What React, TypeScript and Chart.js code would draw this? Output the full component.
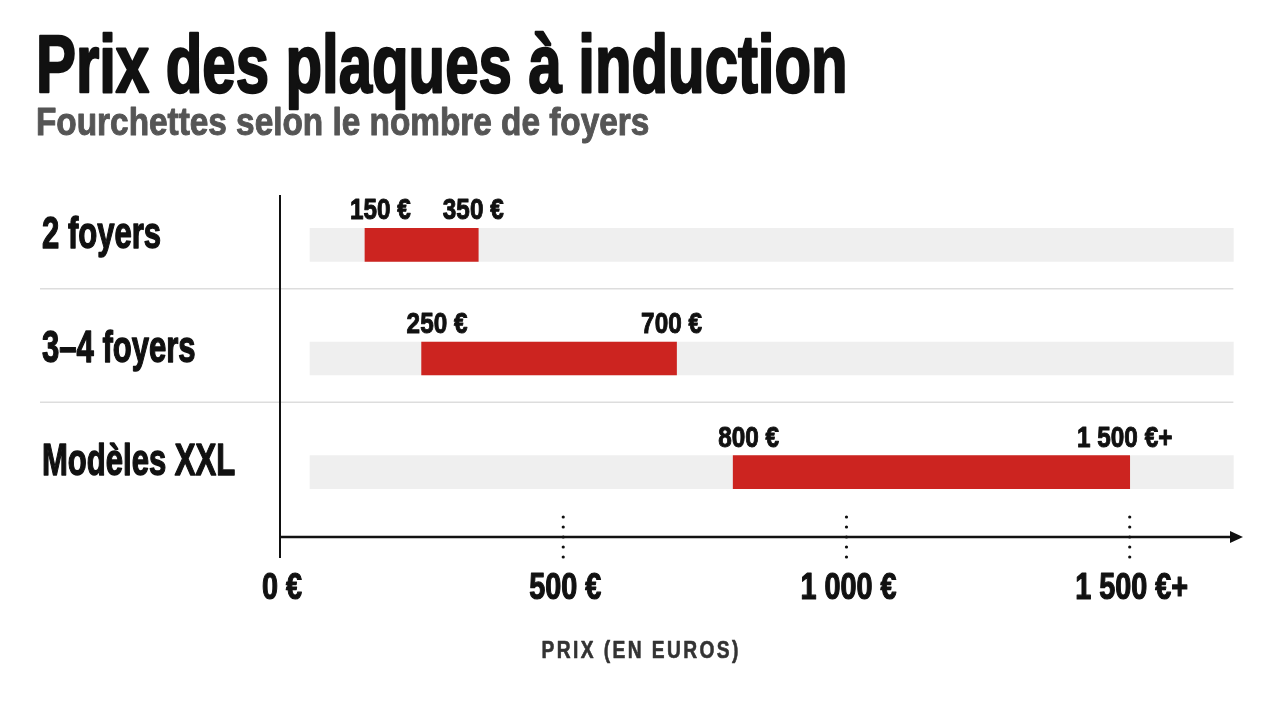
import React, { useEffect, useRef } from "react";
import { Chart, registerables } from "chart.js";

Chart.register(...registerables);

// Rows of the chart
const categories = ["2 foyers", "3–4 foyers", "Modèles XXL"];
// Price range per row, in euros
const priceLow = [150, 250, 800];
const priceHigh = [350, 700, 1500];
const lowLabels = ["150 €", "250 €", "800 €"];
const highLabels = ["350 €", "700 €", "1 500 €+"];
// Axis ticks
const tickValues = [0, 500, 1000, 1500];
const tickLabels = ["0 €", "500 €", "1 000 €", "1 500 €+"];
// Extent of the light background track behind every range, in euros
const trackRange = [53, 1683];
const axisMax = 1700;

const TITLE = "Prix des plaques à induction";
const SUBTITLE = "Fourchettes selon le nombre de foyers";
const AXIS_TITLE = "PRIX (EN EUROS)";

const FONT = "'Liberation Sans', Arial, sans-serif";
const RED = "#cc2420";
const TRACK = "#efefef";
const INK = "#111111";

type TextOpts = {
  size: number;
  weight?: string;
  color?: string;
  sx?: number;
  align?: "left" | "center" | "right";
  spacing?: number;
  heavy?: number;
};

// Draws bold text squeezed horizontally (and optionally thickened) for a condensed grotesque look
function drawText(ctx: CanvasRenderingContext2D, text: string, x: number, y: number, o: TextOpts) {
  const sx = o.sx ?? 1;
  ctx.save();
  ctx.font = `${o.weight ?? "bold"} ${o.size}px ${FONT}`;
  (ctx as any).letterSpacing = `${o.spacing ?? 0}px`;
  ctx.fillStyle = o.color ?? INK;
  ctx.strokeStyle = o.color ?? INK;
  ctx.lineJoin = "round";
  ctx.textAlign = "left";
  ctx.textBaseline = "alphabetic";
  const w = (ctx.measureText(text).width - (o.spacing ?? 0)) * sx;
  const left = o.align === "center" ? x - w / 2 : o.align === "right" ? x - w : x;
  ctx.translate(left, y);
  ctx.scale(sx, 1);
  ctx.fillText(text, 0, 0);
  if (o.heavy) {
    ctx.lineWidth = o.heavy;
    ctx.strokeText(text, 0, 0);
  }
  ctx.restore();
}

const decorations = {
  id: "rangeDecorations",
  beforeDatasetsDraw(chart: any) {
    const { ctx, scales } = chart;
    const xs = scales.x;
    const ys = scales.y;
    // row separators, drawn a little above the mid-point so each row holds its labels
    ctx.save();
    ctx.strokeStyle = "#dddddd";
    ctx.lineWidth = 1.5;
    const sepRight = xs.getPixelForValue(trackRange[1]);
    for (let i = 0; i < categories.length - 1; i++) {
      const y = (ys.getPixelForValue(i) + ys.getPixelForValue(i + 1)) / 2 - 13;
      ctx.beginPath();
      ctx.moveTo(40, y);
      ctx.lineTo(sepRight, y);
      ctx.stroke();
    }
    ctx.restore();
  },
  afterDatasetsDraw(chart: any) {
    const { ctx, chartArea, scales, width } = chart;
    const xs = scales.x;
    const ys = scales.y;
    const x0 = xs.getPixelForValue(0);
    const axisY = chartArea.bottom + 8;

    // titles
    drawText(ctx, TITLE, 36, 92, { size: 82, sx: 0.73, heavy: 2.4 });
    drawText(ctx, SUBTITLE, 36, 135, { size: 39, sx: 0.855, color: "#555555", heavy: 1 });

    // vertical axis
    ctx.save();
    ctx.strokeStyle = INK;
    ctx.lineWidth = 2;
    ctx.beginPath();
    ctx.moveTo(x0, chartArea.top + 7);
    ctx.lineTo(x0, axisY + 21);
    ctx.stroke();

    // horizontal axis with arrow head
    ctx.lineWidth = 2.5;
    ctx.beginPath();
    ctx.moveTo(x0, axisY);
    ctx.lineTo(chartArea.right - 10, axisY);
    ctx.stroke();
    ctx.fillStyle = INK;
    ctx.beginPath();
    ctx.moveTo(chartArea.right, axisY);
    ctx.lineTo(chartArea.right - 13, axisY - 6);
    ctx.lineTo(chartArea.right - 13, axisY + 6);
    ctx.closePath();
    ctx.fill();

    // dotted tick marks
    tickValues.forEach((v) => {
      if (v === 0) return;
      const x = xs.getPixelForValue(v);
      for (let k = -2; k <= 2; k++) {
        ctx.beginPath();
        ctx.arc(x, axisY + k * 10, 1.6, 0, Math.PI * 2);
        ctx.fill();
      }
    });
    ctx.restore();

    // tick labels
    tickValues.forEach((v, i) => {
      drawText(ctx, tickLabels[i], xs.getPixelForValue(v) + 2, axisY + 62, {
        size: 36,
        sx: 0.8,
        align: "center",
        heavy: 1.2,
      });
    });

    // axis title
    drawText(ctx, AXIS_TITLE, width / 2, axisY + 121, {
      size: 24,
      sx: 0.8,
      spacing: 3,
      color: "#333333",
      align: "center",
      heavy: 0.6,
    });

    // row labels and range labels
    categories.forEach((c, i) => {
      const yc = ys.getPixelForValue(i);
      drawText(ctx, c, 42, yc + 3, { size: 45, sx: 0.69, heavy: 1.4 });
      const barTop = yc - 16.5;
      drawText(ctx, lowLabels[i], xs.getPixelForValue(priceLow[i]) - 15, barTop - 9, {
        size: 30,
        sx: 0.81,
        heavy: 1,
      });
      drawText(ctx, highLabels[i], xs.getPixelForValue(priceHigh[i]) - 5, barTop - 9, {
        size: 30,
        sx: 0.81,
        align: "center",
        heavy: 1,
      });
    });
  },
};

export default function App() {
  const canvasRef = useRef<HTMLCanvasElement | null>(null);

  useEffect(() => {
    const canvas = canvasRef.current;
    if (!canvas) return;
    const chart = new Chart(canvas, {
      type: "bar",
      data: {
        labels: categories,
        datasets: [
          {
            label: "Fourchette de prix",
            data: categories.map((_, i) => [priceLow[i], priceHigh[i]]) as any,
            backgroundColor: RED,
            barThickness: 33,
            grouped: false,
            order: 1,
          },
          {
            label: "Échelle",
            data: categories.map(() => [trackRange[0], trackRange[1]]) as any,
            backgroundColor: TRACK,
            barThickness: 33,
            grouped: false,
            order: 2,
          },
        ],
      },
      options: {
        indexAxis: "y",
        animation: false,
        responsive: true,
        maintainAspectRatio: false,
        layout: { padding: { left: 280, right: 37, top: 188, bottom: 173 } },
        plugins: {
          legend: { display: false },
          tooltip: { enabled: false },
          title: { display: false },
        },
        scales: {
          x: { type: "linear", min: 0, max: axisMax, display: false },
          y: { type: "category", display: false },
        },
      },
      plugins: [decorations],
    });
    return () => chart.destroy();
  }, []);

  return (
    <div style={{ position: "fixed", left: 0, top: 0, width: 1280, height: 702, background: "#ffffff" }}>
      <canvas ref={canvasRef} />
    </div>
  );
}
